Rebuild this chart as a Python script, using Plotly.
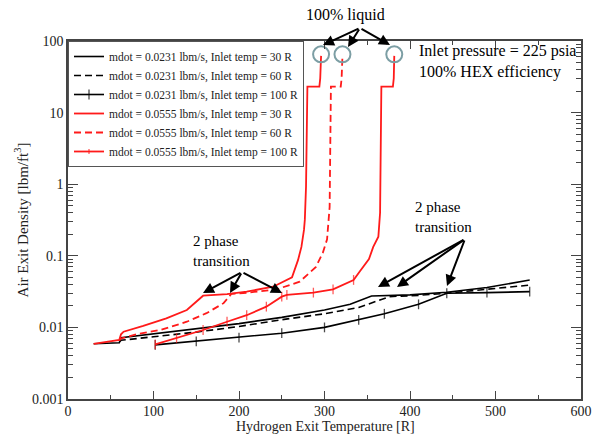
import plotly.graph_objects as go

# ---- data ----
b30_x = [30, 60, 62, 100, 150, 200, 250, 300, 330, 355, 400, 443, 490, 540]
b30_y = [0.0059, 0.0061, 0.0072, 0.0081, 0.0095, 0.0113, 0.0138, 0.0175, 0.021, 0.0275, 0.0285, 0.031, 0.036, 0.046]

b60_x = [60, 62, 100, 150, 200, 250, 300, 340, 376, 410, 443, 490, 540]
b60_y = [0.0063, 0.0066, 0.0074, 0.0086, 0.0103, 0.0128, 0.0155, 0.019, 0.0269, 0.028, 0.030, 0.034, 0.039]

b100_x = [102, 150, 200, 250, 300, 340, 370, 410, 443, 490, 540]
b100_y = [0.0057, 0.0064, 0.0072, 0.0083, 0.0100, 0.0127, 0.0155, 0.021, 0.0300, 0.0306, 0.0316]

r30_x = [30, 60, 62, 65, 88, 115, 139, 158, 186, 209, 240, 262, 269, 273, 276, 277, 278.4, 279, 280, 294, 295, 296]
r30_y = [0.0059, 0.0067, 0.0080, 0.0087, 0.0105, 0.0134, 0.0175, 0.0277, 0.0292, 0.0316, 0.037, 0.050, 0.087, 0.133, 0.23, 0.32, 0.93, 4.1, 23, 23, 30, 62]

r60_x = [60, 62, 80, 108, 139, 162, 182, 191, 209, 244, 271, 290, 298, 303, 306, 307, 307.5, 319, 320, 321]
r60_y = [0.0066, 0.0070, 0.0080, 0.0092, 0.012, 0.0158, 0.0218, 0.0293, 0.0305, 0.034, 0.0435, 0.07, 0.11, 0.17, 0.48, 4, 23, 23, 30, 62]

r100_x = [102, 127, 158, 186, 209, 232, 250, 256, 287, 310, 334, 341, 352, 357, 363, 365, 365.5, 366, 366.5, 380, 381, 381.6]
r100_y = [0.0058, 0.0071, 0.0092, 0.012, 0.0148, 0.0195, 0.0269, 0.0284, 0.0306, 0.034, 0.046, 0.06, 0.09, 0.133, 0.185, 0.4, 1.0, 4, 23, 23, 30, 62]

names = [
    "mdot = 0.0231 lbm/s, Inlet temp = 30 R",
    "mdot = 0.0231 lbm/s, Inlet temp = 60 R",
    "mdot = 0.0231 lbm/s, Inlet temp = 100 R",
    "mdot = 0.0555 lbm/s, Inlet temp = 30 R",
    "mdot = 0.0555 lbm/s, Inlet temp = 60 R",
    "mdot = 0.0555 lbm/s, Inlet temp = 100 R",
]

y_tick_vals = [0.001, 0.01, 0.1, 1, 10, 100]
y_tick_text = ["0.001", "0.01", "0.1", "1", "10", "100"]

FONT = "Liberation Serif"
RED = "#ff1a1a"

fig = go.Figure()

def add(xs, ys, name, color, dash, width, markers=False):
    if markers:
        sizes = [7 if y < 0.05 else 0 for y in ys]
        fig.add_trace(go.Scatter(
            x=xs, y=ys, name=name, mode="lines+markers",
            line=dict(color=color, width=width, dash=dash),
            marker=dict(symbol="line-ns", size=sizes, color=color,
                        line=dict(color=color, width=1.3)),
        ))
    else:
        fig.add_trace(go.Scatter(
            x=xs, y=ys, name=name, mode="lines",
            line=dict(color=color, width=width, dash=dash),
        ))

add(b30_x, b30_y, names[0], "black", "solid", 1.6)
add(b60_x, b60_y, names[1], "black", "7px,4px", 1.6)
add(b100_x, b100_y, names[2], "black", "solid", 1.6, markers=True)
add(r30_x, r30_y, names[3], RED, "solid", 1.8)
add(r60_x, r60_y, names[4], RED, "7px,4px", 1.8)
add(r100_x, r100_y, names[5], RED, "solid", 1.8, markers=True)

# circles around the 100% liquid end points
fig.add_trace(go.Scatter(
    x=[r30_x[-1], r60_x[-1], r100_x[-1]],
    y=[r30_y[-1] * 1.05, r60_y[-1] * 1.05, r100_y[-1] * 1.05],
    mode="markers", showlegend=False, hoverinfo="skip",
    marker=dict(symbol="circle-open", size=16, color="#7c9ea4",
                line=dict(width=2, color="#7c9ea4")),
))

# plot-area pixel frame used for placing annotations
PX0, PX1, PY0, PY1 = 68, 581, 41, 399
def px2x(px):
    return (px - PX0) / (PX1 - PX0) * 600
def py2ly(py):
    return 2 - (py - PY0) / (PY1 - PY0) * 5
def pxp(px):
    return (px - PX0) / (PX1 - PX0)
def pyp(py):
    return (PY1 - py) / (PY1 - PY0)

ann = []
def arrows(tail, heads):
    for hx, hy in heads:
        ann.append(dict(x=px2x(hx), y=py2ly(hy), xref="x", yref="y",
                        ax=tail[0] - hx, ay=tail[1] - hy, axref="pixel", ayref="pixel",
                        text="", showarrow=True, arrowhead=2, arrowsize=1.1,
                        arrowwidth=2, arrowcolor="black"))

def label(px, py, text, size, anchor="left", color="black"):
    ann.append(dict(x=pxp(px), y=pyp(py), xref="paper", yref="paper",
                    xanchor=anchor, yanchor="middle", align="left", text=text,
                    showarrow=False, font=dict(family=FONT, size=size, color=color)))

label(345, 15, "100% liquid", 16, anchor="center")
arrows((360, 28), [(323, 45), (348, 47), (390, 45)])
label(417, 62, "Inlet pressure = 225 psia<br>100% HEX efficiency", 16)
label(191, 251, "2 phase<br>transition", 15)
arrows((242, 272), [(203, 293), (230, 293), (282, 293)])
label(413, 217, "2 phase<br>transition", 15)
arrows((465, 239), [(378, 287), (397, 287), (447, 286)])
# x-axis title
label(325, 426, "Hydrogen Exit Temperature [R]", 14, anchor="center", color="#222")

axis_common = dict(showline=True, linecolor="#444", linewidth=1.5, mirror="ticks",
                   ticks="inside", tickcolor="#444", showgrid=False, zeroline=False,
                   automargin=False,
                   tickfont=dict(family=FONT, size=14, color="#222"))

fig.update_layout(
    width=594, height=437,
    margin=dict(l=68, r=13, t=41, b=38),
    paper_bgcolor="white", plot_bgcolor="white",
    font=dict(family=FONT, color="black"),
    annotations=ann,
    legend=dict(x=0, y=1, xanchor="left", yanchor="top", bgcolor="white",
                bordercolor="#555", borderwidth=1,
                font=dict(family=FONT, size=11.5, color="#222"),
                tracegroupgap=0, itemwidth=30),
    xaxis=dict(range=[0, 600], dtick=100, tick0=0, ticklen=8, ticklabelstandoff=-2,
               minor=dict(dtick=50, ticks="inside", ticklen=4, tickcolor="#444"),
               **axis_common),
    yaxis=dict(type="log", range=[-3, 2], tickvals=y_tick_vals, ticktext=y_tick_text,
               ticklen=10,
               minor=dict(dtick="D1", ticks="inside", ticklen=5, tickcolor="#444"),
               title=dict(text="Air Exit Density [lbm/ft<sup>3</sup>]", standoff=0,
                          font=dict(family=FONT, size=15, color="#222")),
               **axis_common),
)

fig.write_html("out.html")
